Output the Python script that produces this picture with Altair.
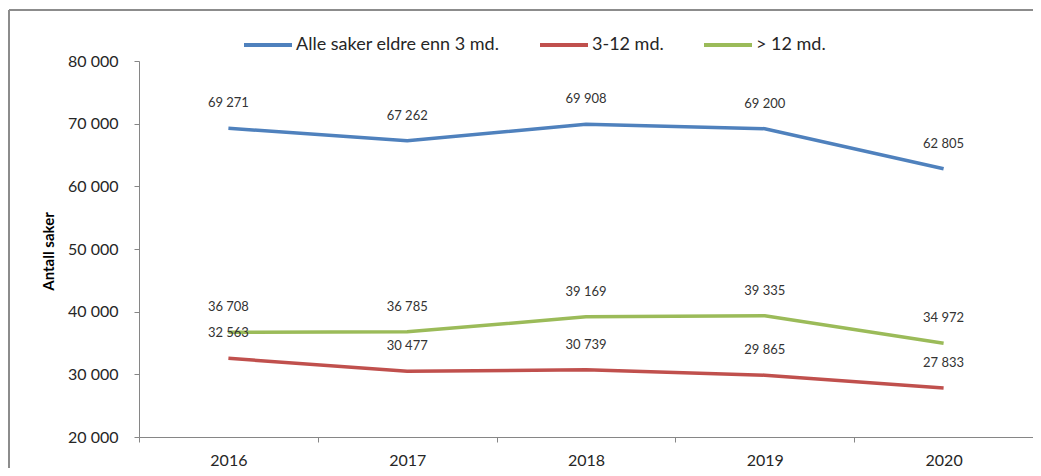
import altair as alt
import pandas as pd

years = ["2016", "2017", "2018", "2019", "2020"]
series_names = ["Alle saker eldre enn 3 md.", "3-12 md.", "> 12 md."]
alle = [69271, 67262, 69908, 69200, 62805]
mnd_3_12 = [32563, 30477, 30739, 29865, 27833]
over_12 = [36708, 36785, 39169, 39335, 34972]
colors = ["#4F81BD", "#C0504D", "#9BBB59"]
y_ticks = [20000, 30000, 40000, 50000, 60000, 70000, 80000]

rows = []
for name, vals in zip(series_names, [alle, mnd_3_12, over_12]):
    for yr, v in zip(years, vals):
        rows.append({"year": yr, "series": name, "value": v})
df = pd.DataFrame(rows)

FONT = "Lato"
W, H = 894, 376

x_enc = alt.X("year:N", sort=years,
              scale=alt.Scale(paddingInner=0, paddingOuter=0),
              axis=alt.Axis(title=None, labelAngle=0, tickBand="extent",
                            domainColor="#868686", tickColor="#868686",
                            tickSize=5, labelPadding=10, labelFontSize=16,
                            labelColor="#262626", labelFont=FONT, grid=False))
y_enc = alt.Y("value:Q", scale=alt.Scale(domain=[20000, 80000], nice=False, zero=False),
              axis=alt.Axis(title="Antall saker", values=y_ticks,
                            labelExpr="replace(format(datum.value, ','), ',', ' ')",
                            domainColor="#868686", tickColor="#868686",
                            tickSize=5, labelPadding=16, labelFontSize=16,
                            labelColor="#262626", labelFont=FONT, grid=False,
                            titleFont=FONT, titleFontSize=15, titleFontWeight="bold",
                            titleColor="#000000", titleX=-91, titleY=H / 2 + 2,
                            titleAngle=270, titleAlign="center", titleBaseline="middle"))
color_enc = alt.Color("series:N",
                      scale=alt.Scale(domain=series_names, range=colors),
                      legend=alt.Legend(title=None, orient="none", direction="horizontal",
                                        legendX=103, legendY=-42,
                                        symbolType="stroke", symbolSize=2304,
                                        symbolStrokeWidth=4, labelFontSize=18,
                                        labelFont=FONT, labelColor="#262626",
                                        labelLimit=400,
                                        labelOffset=2, columnPadding=32))

base = alt.Chart(df)

lines = base.mark_line(strokeWidth=3.5).encode(x=x_enc, y=y_enc, color=color_enc)

labels = base.transform_calculate(
    lbl="replace(format(datum.value, ','), ',', ' ')"
).mark_text(dy=-25, fontSize=13, font=FONT, color="#333333").encode(
    x=alt.X("year:N", sort=years), y="value:Q", text="lbl:N"
)

frame_top = base.mark_rule(color="#8c8c8c", strokeWidth=2).encode(
    x=alt.value(-130), x2=alt.value(W + 2), y=alt.value(-51))
frame_left = base.mark_rule(color="#8c8c8c", strokeWidth=2).encode(
    x=alt.value(-130), y=alt.value(-51), y2=alt.value(H + 40))

chart = alt.layer(frame_top, frame_left, lines, labels).properties(
    width=W, height=H,
    autosize=alt.AutoSizeParams(type="none"),
    padding={"left": 131, "top": 53, "right": 0, "bottom": 31},
    background="white",
).configure_view(stroke=None)

chart.save("out.html", embed_options={"renderer": "svg", "actions": False})
